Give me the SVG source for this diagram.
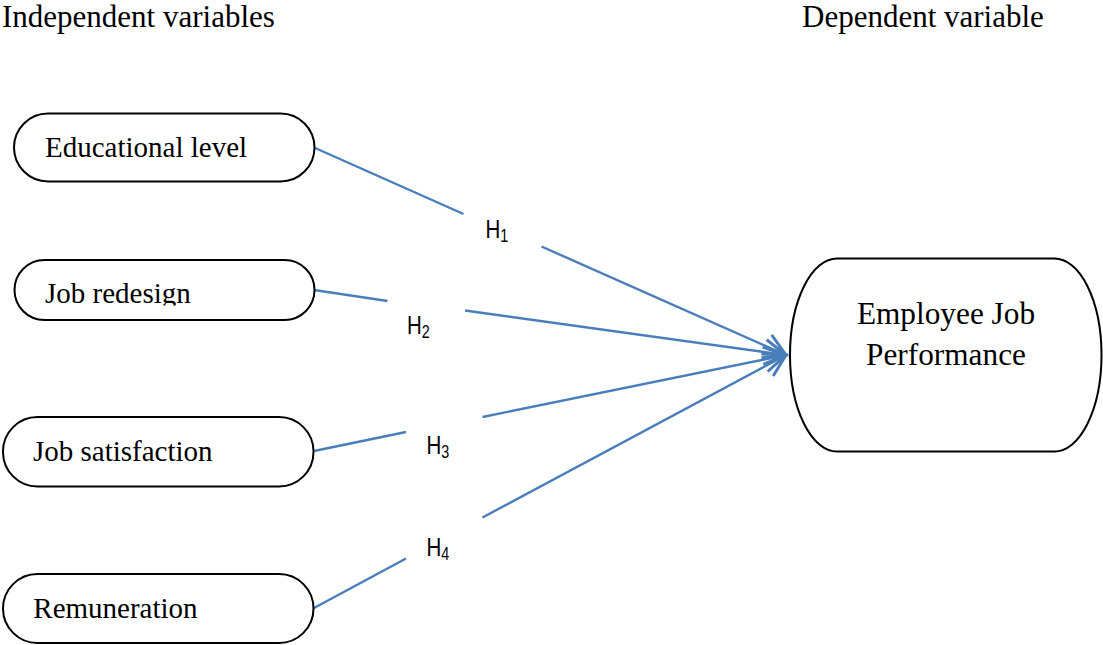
<svg xmlns="http://www.w3.org/2000/svg" width="1103" height="645" viewBox="0 0 1103 645">
<style>
.box{fill:#fff;stroke:#000;stroke-width:2}
.t{font-family:"Liberation Serif","Times New Roman",serif;font-size:29px;fill:#000}
.hd{font-family:"Liberation Serif","Times New Roman",serif;font-size:31px;fill:#000}
.big{font-family:"Liberation Serif","Times New Roman",serif;font-size:31.3px;fill:#000;text-anchor:middle}
.h{font-family:"Liberation Sans",Arial,sans-serif;font-size:25px;fill:#000}
.c{fill:none;stroke:#4a7ebb;stroke-width:2.4}
</style>
<defs>
<marker id="arr" markerUnits="userSpaceOnUse" markerWidth="30" markerHeight="30" viewBox="-20 -12 24 24" refX="0" refY="0" orient="auto">
<path d="M-17,-10 L0,0 L-17,10" fill="none" stroke="#4a7ebb" stroke-width="2.4"/>
</marker>
<clipPath id="clipJR"><rect x="0" y="250" width="330" height="55.5"/></clipPath>
</defs>
<rect width="1103" height="645" fill="#fff"/>
<text class="hd" x="2" y="26.5">Independent variables</text>
<text class="hd" x="802" y="26.5">Dependent variable</text>

<g id="connectors">
<path class="c" d="M314,147.5 L463.5,214"/>
<path class="c" d="M541.5,246.5 L786,355" marker-end="url(#arr)"/>
<path class="c" d="M314,290 L387.5,301"/>
<path class="c" d="M465,310.5 L786,355" marker-end="url(#arr)"/>
<path class="c" d="M314,451 L406,432"/>
<path class="c" d="M482.5,417 L786,355" marker-end="url(#arr)"/>
<path class="c" d="M314,608 L406,558.5"/>
<path class="c" d="M482.5,517.5 L786,355" marker-end="url(#arr)"/>
</g>

<g id="labels">
<text class="h" transform="translate(485.5,237.5) scale(0.82,1)">H<tspan font-size="17.5" dy="4.4">1</tspan></text>
<text class="h" transform="translate(407,333.5) scale(0.82,1)">H<tspan font-size="17.5" dy="4.4">2</tspan></text>
<text class="h" transform="translate(426.5,454) scale(0.82,1)">H<tspan font-size="17.5" dy="4.4">3</tspan></text>
<text class="h" transform="translate(426.5,556) scale(0.82,1)">H<tspan font-size="17.5" dy="4.4">4</tspan></text>
</g>

<g id="educational-level">
<rect class="box" x="14" y="113.5" width="300.5" height="68" rx="34" ry="34"/>
<text class="t" x="45" y="157.3">Educational level</text>
</g>
<g id="job-redesign">
<rect class="box" x="14.5" y="260" width="300" height="60" rx="30" ry="30"/>
<text class="t" x="45" y="303.3" clip-path="url(#clipJR)">Job redesign</text>
</g>
<g id="job-satisfaction">
<rect class="box" x="3" y="417" width="310.5" height="69.5" rx="34.5" ry="34.5"/>
<text class="t" x="33" y="460.7">Job satisfaction</text>
</g>
<g id="remuneration">
<rect class="box" x="3" y="574" width="310.5" height="69" rx="34.5" ry="34.5"/>
<text class="t" x="33.3" y="618.3">Remuneration</text>
</g>
<g id="employee-job-performance">
<rect class="box" x="790" y="258.5" width="311.5" height="193" rx="47" ry="96.5"/>
<text class="big" x="946" y="324">Employee Job</text>
<text class="big" x="946" y="365">Performance</text>
</g>
</svg>
